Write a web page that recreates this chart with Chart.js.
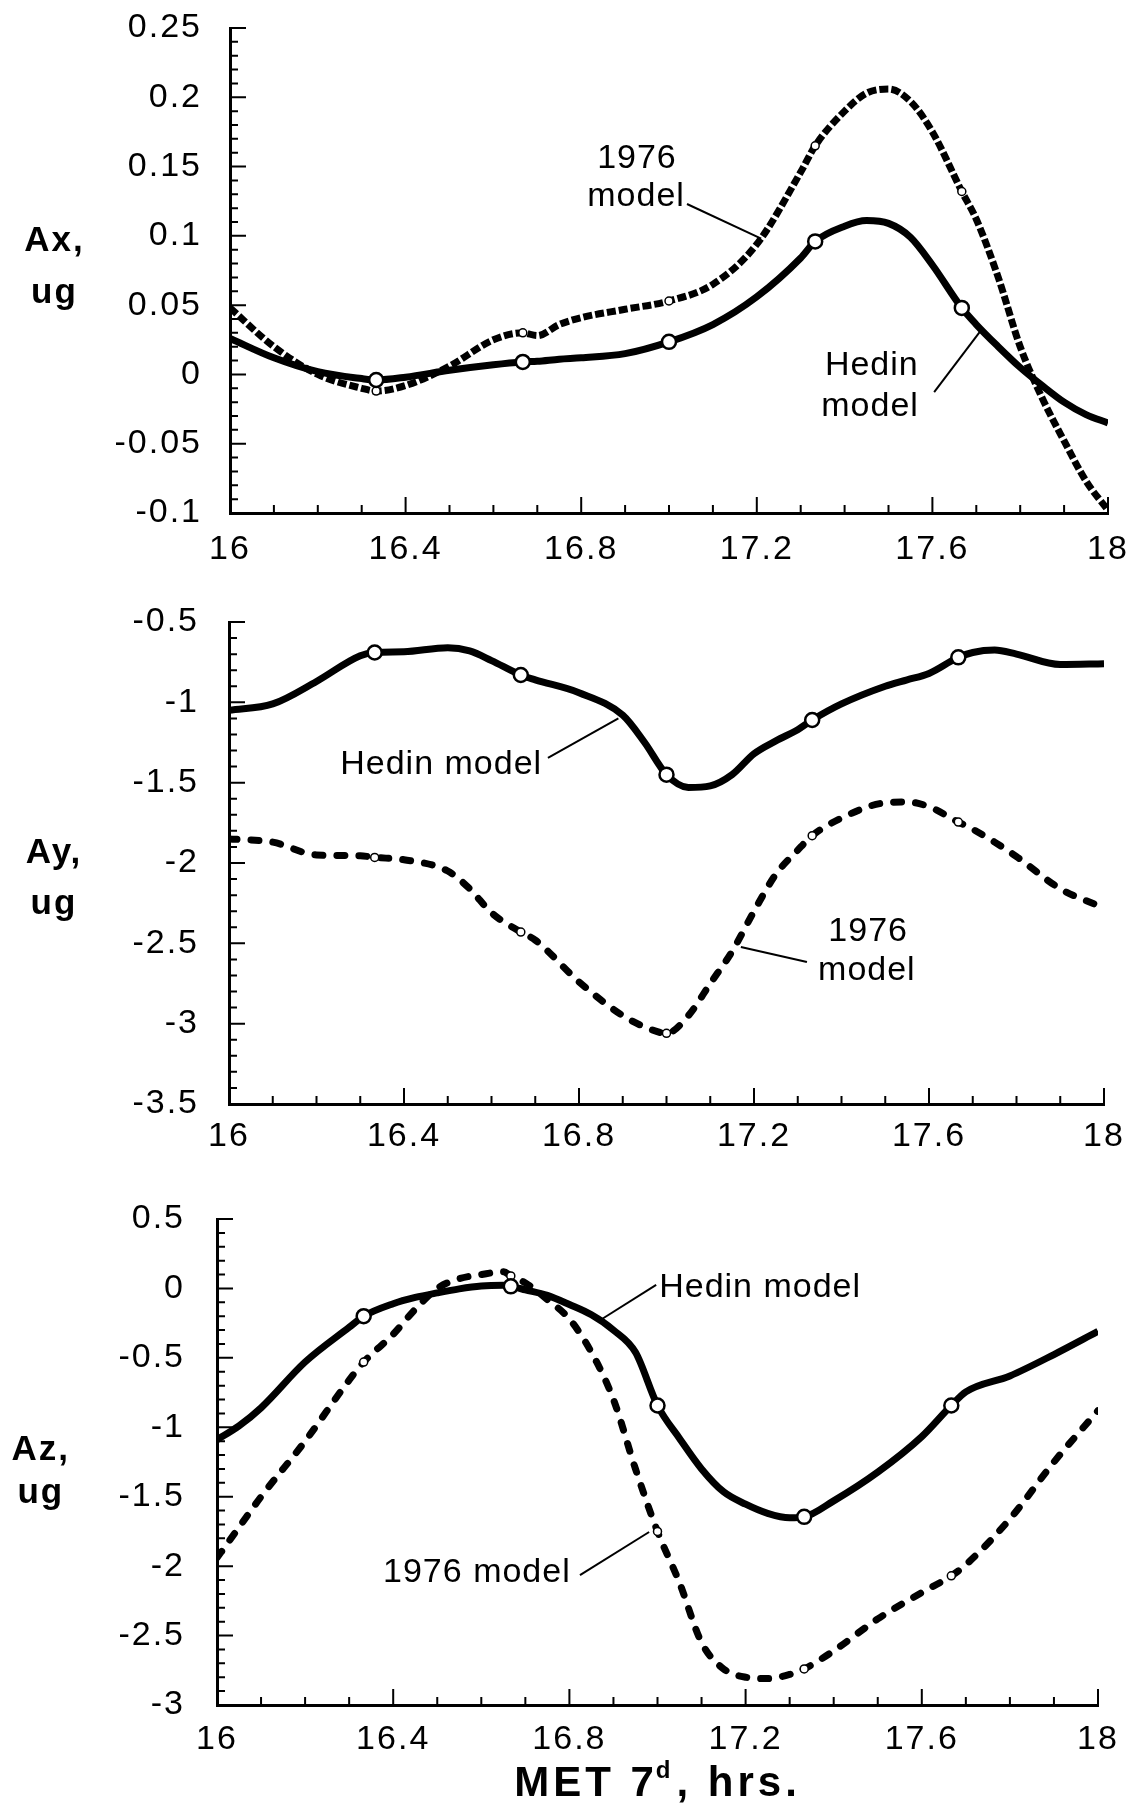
<!DOCTYPE html>
<html>
<head>
<meta charset="utf-8">
<title>Ax, Ay, Az - Hedin vs 1976 model</title>
<script src="https://cdn.jsdelivr.net/npm/chart.js@4.4.1/dist/chart.umd.min.js"></script>
<style>
  html, body { margin: 0; padding: 0; background: #fff; }
  #page { position: relative; width: 1136px; height: 1806px; background: #fff; overflow: hidden; }
  #page canvas { position: absolute; left: 0; }
</style>
</head>
<body>
<div id="page">
  <canvas id="axChart" width="1136" height="580" style="top:0px"></canvas>
  <canvas id="ayChart" width="1136" height="580" style="top:590px"></canvas>
  <canvas id="azChart" width="1136" height="626" style="top:1180px"></canvas>
</div>
<script>
// open circles every 20 minutes
const markerHours = [16.333, 16.667, 17, 17.333, 17.667];

// Ax, ug
const axHours = [16, 16.1, 16.2, 16.3, 16.333, 16.4, 16.5, 16.6, 16.667, 16.7, 16.75, 16.8, 16.9, 17, 17.1, 17.2,
                 17.3, 17.333, 17.4, 17.45, 17.5, 17.55, 17.6, 17.667, 17.7, 17.75, 17.8, 17.85, 17.9, 17.95, 18];
const axHedin = [0.026, 0.012, 0.002, -0.003, -0.004, -0.002, 0.003, 0.007, 0.009, 0.0095, 0.011, 0.012, 0.015, 0.0235, 0.036, 0.056,
                 0.084, 0.096, 0.107, 0.111, 0.109, 0.099, 0.079, 0.048, 0.036, 0.02, 0.005, -0.008, -0.02, -0.029, -0.035];
const ax1976 = [0.048, 0.02, 0.0, -0.01, -0.012, -0.008, 0.006, 0.025, 0.03, 0.028, 0.036, 0.041, 0.047, 0.053, 0.065, 0.094,
                0.146, 0.165, 0.19, 0.203, 0.206, 0.197, 0.175, 0.132, 0.112, 0.07, 0.02, -0.017, -0.048, -0.077, -0.098];

// Ay, ug
const ayHours = [16, 16.1, 16.2, 16.3, 16.333, 16.4, 16.5, 16.55, 16.6, 16.667, 16.7, 16.8, 16.9, 16.95, 17, 17.05,
                 17.1, 17.15, 17.2, 17.25, 17.3, 17.333, 17.4, 17.5, 17.55, 17.6, 17.667, 17.7, 17.75, 17.8, 17.9, 18];
const ayHedin = [-1.05, -1.01, -0.87, -0.71, -0.69, -0.685, -0.66, -0.68, -0.74, -0.83, -0.86, -0.94, -1.08, -1.25, -1.45, -1.53,
                 -1.52, -1.45, -1.32, -1.24, -1.17, -1.11, -1.01, -0.9, -0.86, -0.82, -0.72, -0.69, -0.675, -0.7, -0.765, -0.76];
const ay1976 = [-1.85, -1.87, -1.95, -1.955, -1.965, -1.98, -2.05, -2.16, -2.31, -2.43, -2.48, -2.74, -2.95, -3.02, -3.06, -2.95,
                -2.75, -2.55, -2.3, -2.07, -1.92, -1.83, -1.72, -1.625, -1.62, -1.65, -1.745, -1.79, -1.87, -1.96, -2.16, -2.28];

// Az, ug
const azHours = [16, 16.05, 16.1, 16.2, 16.3, 16.333, 16.4, 16.45, 16.5, 16.55, 16.6, 16.65, 16.667, 16.7, 16.75, 16.8, 16.85, 16.9,
                 16.95, 17, 17.05, 17.1, 17.15, 17.2, 17.25, 17.3, 17.333, 17.4, 17.5, 17.6, 17.667, 17.7, 17.8, 17.9, 18];
const azHedin = [-1.09, -0.99, -0.86, -0.53, -0.28, -0.2, -0.11, -0.065, -0.032, -0.003, 0.017, 0.022, 0.015, -0.01, -0.05, -0.116, -0.19, -0.3,
                 -0.46, -0.843, -1.08, -1.3, -1.465, -1.554, -1.62, -1.652, -1.645, -1.53, -1.323, -1.067, -0.843, -0.745, -0.63, -0.476, -0.309];
const az1976 = [-1.94, -1.72, -1.5, -1.1, -0.66, -0.53, -0.33, -0.15, 0.0, 0.07, 0.1, 0.12, 0.09, 0.04, -0.08, -0.22, -0.46, -0.8,
                -1.3, -1.75, -2.12, -2.55, -2.74, -2.8, -2.81, -2.78, -2.74, -2.61, -2.38, -2.19, -2.07, -1.99, -1.66, -1.25, -0.88];

const FONT = '"Liberation Sans", Arial, Helvetica, sans-serif';

function toPoints(hours, values) {
    return hours.map((h, i) => ({ x: h, y: values[i] }));
}

function fmt(v) {
    return String(Number(v.toFixed(2)));
}

function isMarker(ctx) {
    return ctx.raw && markerHours.includes(ctx.raw.x);
}

// the old plot has slightly spaced-out lettering
const spacing = {
    id: 'spacing',
    beforeDraw(chart) {
        if ('letterSpacing' in chart.ctx) chart.ctx.letterSpacing = '2px';
    },
    afterDraw(chart) {
        if ('letterSpacing' in chart.ctx) chart.ctx.letterSpacing = '0px';
    }
};

// small inward tick marks on both axes
const innerTicks = {
    id: 'innerTicks',
    afterDatasetsDraw(chart, args, opts) {
        const { ctx, chartArea } = chart;
        const xs = chart.scales.x;
        const ys = chart.scales.y;
        ctx.save();
        ctx.strokeStyle = '#000';
        ctx.lineWidth = 2;
        ctx.beginPath();
        const nx = Math.round((xs.max - xs.min) / opts.xMinor);
        const rx = Math.round(opts.xMajor / opts.xMinor);
        for (let i = 0; i <= nx; i++) {
            const px = xs.getPixelForValue(xs.min + i * opts.xMinor);
            const len = i % rx === 0 ? 16 : 8;
            ctx.moveTo(px, chartArea.bottom);
            ctx.lineTo(px, chartArea.bottom - len);
        }
        const ny = Math.round((ys.max - ys.min) / opts.yMinor);
        const ry = Math.round(opts.yMajor / opts.yMinor);
        for (let i = 0; i <= ny; i++) {
            const py = ys.getPixelForValue(ys.min + i * opts.yMinor);
            const len = i % ry === 0 ? 16 : 8;
            ctx.moveTo(chartArea.left, py);
            ctx.lineTo(chartArea.left + len, py);
        }
        ctx.stroke();
        ctx.restore();
    }
};

// labels, leader lines and axis titles, placed in data coordinates
const notes = {
    id: 'notes',
    afterDraw(chart, args, opts) {
        const { ctx } = chart;
        const xs = chart.scales.x;
        const ys = chart.scales.y;
        const X = v => xs.getPixelForValue(v);
        const Y = v => ys.getPixelForValue(v);
        const hasSpacing = 'letterSpacing' in ctx;
        ctx.save();
        ctx.fillStyle = '#000';
        ctx.strokeStyle = '#000';
        ctx.lineWidth = 2;
        (opts.leaders || []).forEach(l => {
            ctx.beginPath();
            ctx.moveTo(X(l[0]), Y(l[1]));
            ctx.lineTo(X(l[2]), Y(l[3]));
            ctx.stroke();
        });
        ctx.font = '34px ' + FONT;
        ctx.textAlign = 'center';
        ctx.textBaseline = 'middle';
        if (hasSpacing) ctx.letterSpacing = '1px';
        (opts.labels || []).forEach(t => ctx.fillText(t.text, X(t.x), Y(t.y)));

        ctx.font = 'bold 35px ' + FONT;
        ctx.textBaseline = 'alphabetic';
        if (hasSpacing) ctx.letterSpacing = '2px';
        (opts.yTitle || []).forEach(t => ctx.fillText(t.text, X(t.x), Y(t.y)));

        if (opts.xTitle) {
            const t = opts.xTitle;
            if (hasSpacing) ctx.letterSpacing = '4px';
            const big = 'bold 42px ' + FONT;
            const small = 'bold 24px ' + FONT;
            ctx.font = big;
            const w1 = ctx.measureText(t.parts[0]).width;
            const w3 = ctx.measureText(t.parts[2]).width;
            ctx.font = small;
            const w2 = ctx.measureText(t.parts[1]).width;
            const x0 = X(t.x) - (w1 + w2 + w3) / 2;
            const y0 = Y(t.y);
            ctx.textAlign = 'left';
            ctx.font = big;
            ctx.fillText(t.parts[0], x0, y0);
            ctx.font = small;
            ctx.fillText(t.parts[1], x0 + w1 - 2, y0 - 18);
            ctx.font = big;
            ctx.fillText(t.parts[2], x0 + w1 + w2, y0);
        }
        ctx.restore();
    }
};

function hedinSet(hours, values) {
    return {
        label: 'Hedin model',
        data: toPoints(hours, values),
        borderColor: '#000',
        borderWidth: 7,
        cubicInterpolationMode: 'monotone',
        pointRadius: ctx => isMarker(ctx) ? 7 : 0,
        pointHoverRadius: 0,
        pointBackgroundColor: '#fff',
        pointBorderColor: '#000',
        pointBorderWidth: 2.5,
        order: 0
    };
}

function oldModelSet(hours, values, dash, cap) {
    return {
        label: '1976 model',
        data: toPoints(hours, values),
        borderColor: '#000',
        borderWidth: 7,
        borderDash: dash,
        borderCapStyle: cap,
        cubicInterpolationMode: 'monotone',
        pointRadius: ctx => isMarker(ctx) ? 4 : 0,
        pointHoverRadius: 0,
        pointBackgroundColor: '#fff',
        pointBorderColor: '#000',
        pointBorderWidth: 1.5,
        order: 1
    };
}

function makeChart(id, cfg) {
    const tickFont = { size: 34, family: FONT };
    return new Chart(document.getElementById(id), {
        type: 'line',
        data: { datasets: cfg.datasets },
        options: {
            responsive: false,
            animation: false,
            events: [],
            layout: { autoPadding: false, padding: { top: cfg.top, right: cfg.right, bottom: 0, left: 0 } },
            plugins: {
                legend: { display: false },
                tooltip: { enabled: false },
                innerTicks: cfg.ticks,
                notes: cfg.notes
            },
            scales: {
                x: {
                    type: 'linear',
                    min: 16,
                    max: 18,
                    afterFit: s => {
                        s.height = cfg.xHeight;
                        s.paddingLeft = 0;
                        s.paddingRight = 0;
                    },
                    ticks: {
                        stepSize: 0.4,
                        padding: cfg.xPad,
                        color: '#000',
                        font: tickFont,
                        maxRotation: 0,
                        autoSkip: false,
                        callback: v => fmt(v)
                    },
                    grid: { display: false, drawTicks: false },
                    border: { display: true, color: '#000', width: 3 }
                },
                y: {
                    type: 'linear',
                    min: cfg.yMin,
                    max: cfg.yMax,
                    afterFit: s => {
                        s.width = cfg.left;
                        s.paddingTop = 0;
                        s.paddingBottom = 0;
                    },
                    ticks: {
                        stepSize: cfg.yStep,
                        padding: cfg.yPad,
                        color: '#000',
                        font: tickFont,
                        autoSkip: false,
                        callback: v => fmt(v)
                    },
                    grid: { display: false, drawTicks: false },
                    border: { display: true, color: '#000', width: 3 }
                }
            }
        },
        plugins: [spacing, innerTicks, notes]
    });
}

makeChart('axChart', {
    datasets: [hedinSet(axHours, axHedin), oldModelSet(axHours, ax1976, [9, 3], 'butt')],
    top: 28, right: 28, left: 230, xHeight: 67, xPad: 16, yPad: 28,
    yMin: -0.1, yMax: 0.25, yStep: 0.05,
    ticks: { xMinor: 0.1, xMajor: 0.4, yMinor: 0.01, yMajor: 0.05 },
    notes: {
        labels: [
            { text: '1976', x: 16.927, y: 0.1555 },
            { text: 'model', x: 16.925, y: 0.128 },
            { text: 'Hedin', x: 17.462, y: 0.006 },
            { text: 'model', x: 17.458, y: -0.023 }
        ],
        leaders: [[17.041, 0.123, 17.21, 0.098], [17.604, -0.0127, 17.711, 0.032]],
        yTitle: [{ text: 'Ax,', x: 15.6, y: 0.089 }, { text: 'ug', x: 15.6, y: 0.0515 }]
    }
});

makeChart('ayChart', {
    datasets: [hedinSet(ayHours, ayHedin), oldModelSet(ayHours, ay1976, [8, 14], 'round')],
    top: 32, right: 32, left: 229, xHeight: 66, xPad: 12, yPad: 30,
    yMin: -3.5, yMax: -0.5, yStep: 0.5,
    ticks: { xMinor: 0.1, xMajor: 0.4, yMinor: 0.1, yMajor: 0.5 },
    notes: {
        labels: [
            { text: 'Hedin model', x: 16.485, y: -1.39 },
            { text: '1976', x: 17.461, y: -2.429 },
            { text: 'model', x: 17.458, y: -2.672 }
        ],
        leaders: [[16.729, -1.346, 16.89, -1.1], [17.321, -2.616, 17.17, -2.523]],
        yTitle: [{ text: 'Ay,', x: 15.6, y: -2.0 }, { text: 'ug', x: 15.6, y: -2.317 }]
    }
});

makeChart('azChart', {
    datasets: [hedinSet(azHours, azHedin), oldModelSet(azHours, az1976, [8, 14], 'round')],
    top: 39, right: 38, left: 217, xHeight: 101, xPad: 14, yPad: 32,
    yMin: -3, yMax: 0.5, yStep: 0.5,
    ticks: { xMinor: 0.1, xMajor: 0.4, yMinor: 0.1, yMajor: 0.5 },
    notes: {
        labels: [
            { text: 'Hedin model', x: 17.233, y: 0.003 },
            { text: '1976 model', x: 16.59, y: -2.049 }
        ],
        leaders: [[16.997, 0.025, 16.874, -0.22], [16.824, -2.064, 16.981, -1.754]],
        yTitle: [{ text: 'Az,', x: 15.6, y: -1.236 }, { text: 'ug', x: 15.6, y: -1.545 }],
        xTitle: { parts: ['MET 7', 'd', ', hrs.'], x: 17.0, y: -3.655 }
    }
});
</script>
</body>
</html>
